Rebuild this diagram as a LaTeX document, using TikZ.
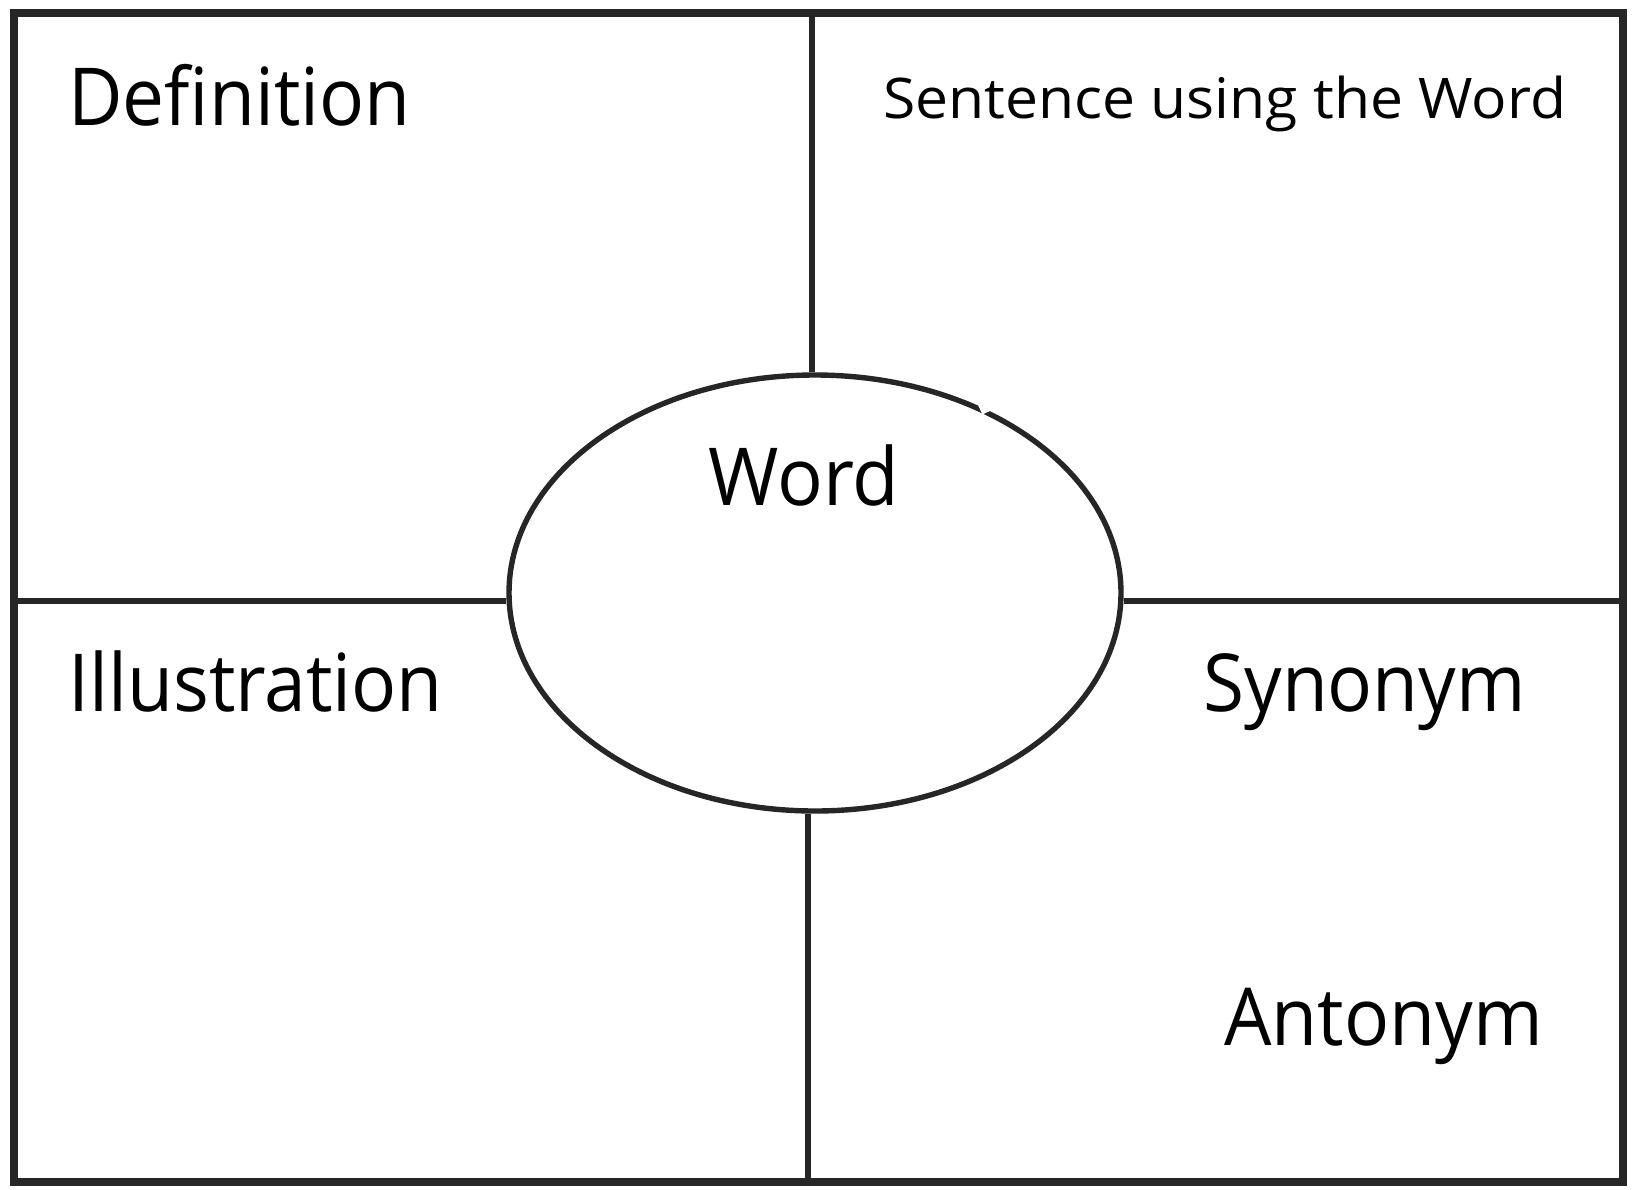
\documentclass[tikz,border=0pt]{standalone}
\usepackage{fontspec}
\usepackage{graphicx}
\setmainfont{Open Sans}
\usetikzlibrary{shapes.geometric}
\begin{document}
\begin{tikzpicture}[x=0.5pt,y=-0.5pt,
  frame/.style={line width=4pt,draw=black!85},
  divider/.style={line width=3pt,draw=black!85},
  bigtxt/.style={anchor=base west,inner sep=0pt,font=\fontsize{40}{48}\selectfont},
  smalltxt/.style={anchor=base west,inner sep=0pt,font=\fontsize{28}{34}\selectfont}]
\useasboundingbox[fill=white] (0,0) rectangle (1633,1189);
\draw[frame] (14,13) rectangle (1623,1182);
\node[ellipse,draw=black!85,line width=2.7pt,minimum width=306pt,minimum height=218pt,inner sep=0pt] (ell) at (815,593) {};
\coordinate (vt) at (812,13);
\coordinate (vb) at (808,1182);
\coordinate (hl) at (14,601);
\coordinate (hr) at (1623,601);
\draw[divider] (vt) -- (vt |- ell.north);
\draw[divider] (vb) -- (vb |- ell.south);
\draw[divider] (hl) -- (hl -| ell.west);
\draw[divider] (hr) -- (hr -| ell.east);
\fill[white,rotate around={25:(984,406)}] (979,399) rectangle (989,413);
\node[bigtxt] (def) at (68,125) {\scalebox{0.935}[1]{Definition}};
\node[smalltxt] (sent) at (883,118) {\scalebox{1.05}[1]{Sentence using the Word}};
\node[bigtxt] (word) at (708,505) {\scalebox{0.95}[1]{Word}};
\node[bigtxt] (ill) at (68,711) {\scalebox{0.937}[1]{Illustration}};
\node[bigtxt] (syn) at (1203,711) {\scalebox{0.933}[1]{Synonym}};
\node[bigtxt] (ant) at (1224,1045) {\scalebox{0.937}[1]{Antonym}};
\end{tikzpicture}
\end{document}
